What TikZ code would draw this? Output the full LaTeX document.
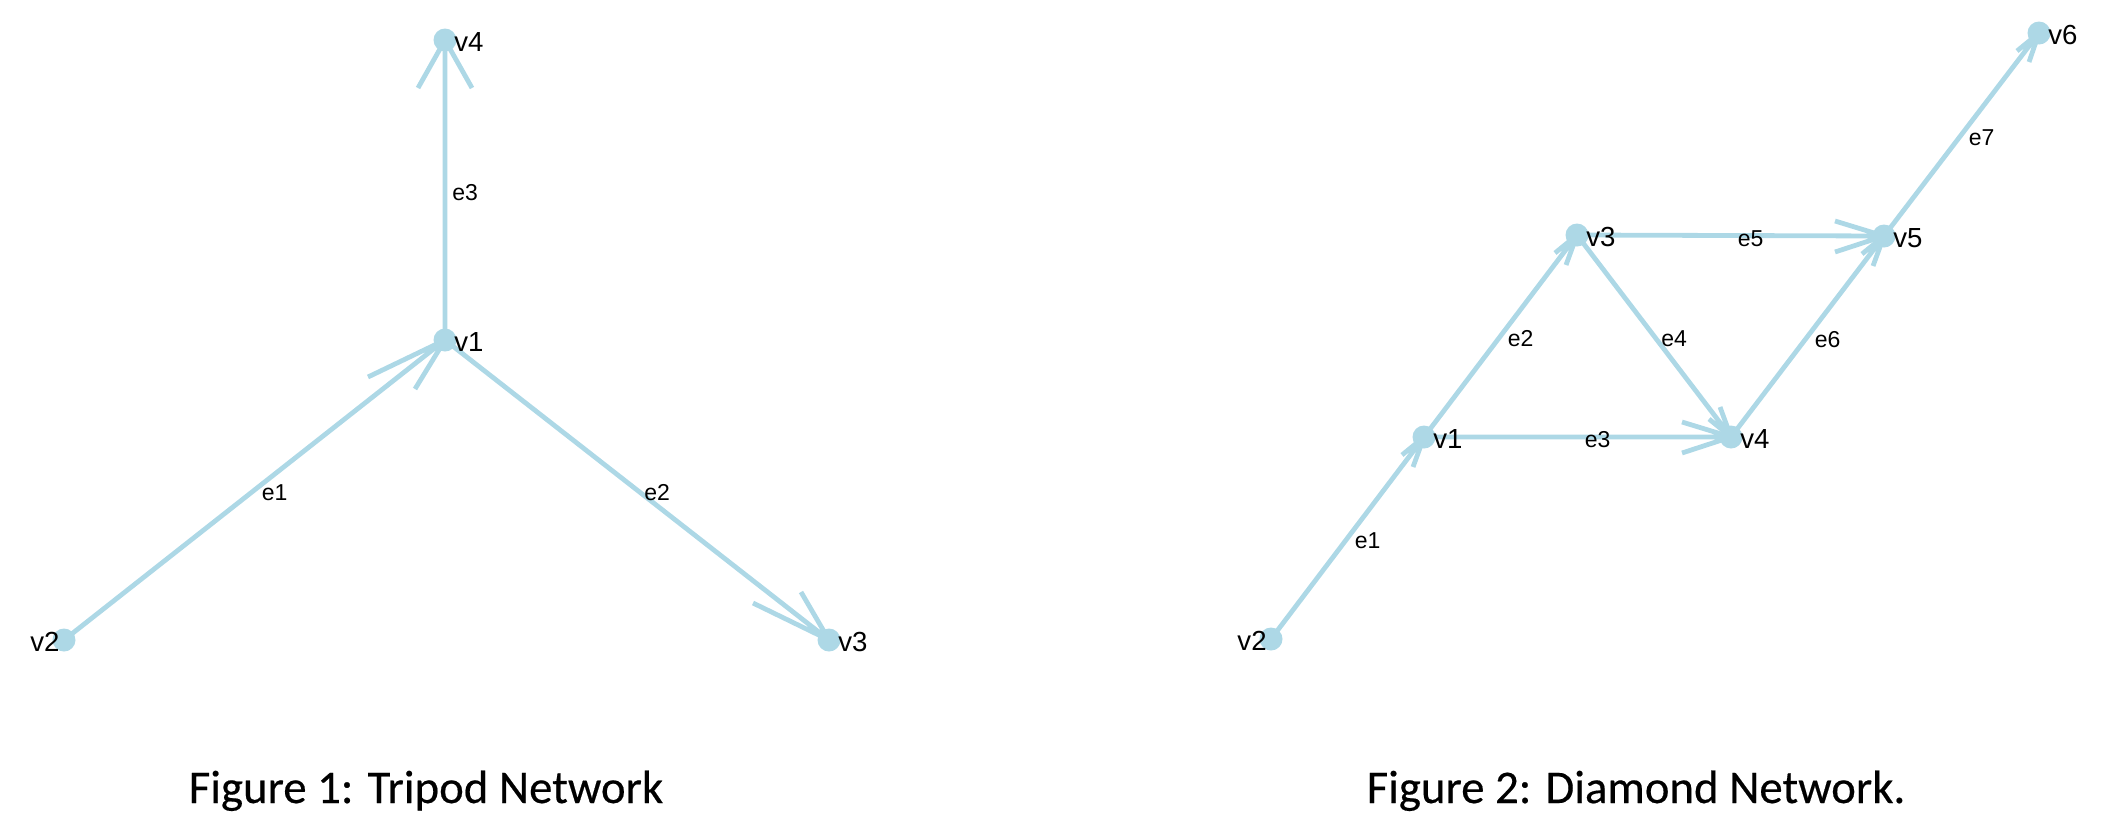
\documentclass[tikz,border=0pt]{standalone}
\usepackage{fontspec}
\setmainfont{Liberation Sans}
\newfontfamily\capfont[FakeBold=0.4]{Carlito}
\usetikzlibrary{calc}
\pgfdeclarelayer{bg}
\pgfsetlayers{bg,main}
\definecolor{nodeblue}{HTML}{ADD8E6}
\tikzset{
  vert/.style={circle, fill=nodeblue, inner sep=0pt, minimum size=11.5pt},
  vlbl/.style={inner sep=0pt, text=black, font=\fontsize{13.8}{16}\selectfont},
  elbl/.style={inner sep=0pt, text=black, anchor=west, xshift=3.5pt, yshift=-1.5pt, font=\fontsize{11.5}{13}\selectfont},
  edge/.style={draw=nodeblue, line width=2.4pt, line join=round},
  capt/.style={inner sep=0pt, anchor=base, font=\capfont\fontsize{23.4}{28}\selectfont}
}
\begin{document}
\begin{tikzpicture}[x=0.5pt, y=-0.5pt]
\useasboundingbox (0,0) rectangle (2120,836);
% ---------- Figure 1 ----------
\node[vert] (f1v4) at (445,40) {};
\node[vert] (f1v1) at (445,340) {};
\node[vert] (f1v2) at (64,640) {};
\node[vert] (f1v3) at (829,640) {};
\node[vlbl, anchor=west, xshift=4.5pt, yshift=-1pt] (f1t4) at (f1v4.center) {v4};
\node[vlbl, anchor=west, xshift=4.5pt, yshift=-1pt] (f1t1) at (f1v1.center) {v1};
\node[vlbl, anchor=east, xshift=-2pt, yshift=-1pt] (f1t2) at (f1v2.center) {v2};
\node[vlbl, anchor=west, xshift=4.5pt, yshift=-1pt] (f1t3) at (f1v3.center) {v3};
\begin{pgfonlayer}{bg}
\draw[edge] (f1v2.center) -- (f1v1.center) -- ++(-77,37) (f1v1.center) -- ++(-30,49);
\draw[edge] (f1v1.center) -- (f1v3.center) -- ++(-76,-37) (f1v3.center) -- ++(-28,-48);
\draw[edge] (f1v1.center) -- (f1v4.center) -- ++(-27,48) (f1v4.center) -- ++(27,48);
\end{pgfonlayer}
\node[elbl] (f1e1) at ($(f1v2)!0.5!(f1v1)$) {e1};
\node[elbl] (f1e2) at ($(f1v1)!0.5!(f1v3)$) {e2};
\node[elbl] (f1e3) at ($(f1v1)!0.5!(f1v4)$) {e3};
% ---------- Figure 2 ----------
\node[vert] (f2v2) at (1271,639) {};
\node[vert] (f2v1) at (1424,437) {};
\node[vert] (f2v3) at (1577,235) {};
\node[vert] (f2v4) at (1731,437) {};
\node[vert] (f2v5) at (1884,236) {};
\node[vert] (f2v6) at (2039,33) {};
\node[vlbl, anchor=east, xshift=-2pt, yshift=-1pt] (f2t2) at (f2v2.center) {v2};
\node[vlbl, anchor=west, xshift=4.5pt, yshift=-1pt] (f2t1) at (f2v1.center) {v1};
\node[vlbl, anchor=west, xshift=4.5pt, yshift=-1pt] (f2t3) at (f2v3.center) {v3};
\node[vlbl, anchor=west, xshift=4.5pt, yshift=-1pt] (f2t4) at (f2v4.center) {v4};
\node[vlbl, anchor=west, xshift=4.5pt, yshift=-1pt] (f2t5) at (f2v5.center) {v5};
\node[vlbl, anchor=west, xshift=4.5pt, yshift=-1pt] (f2t6) at (f2v6.center) {v6};
\begin{pgfonlayer}{bg}
\draw[edge] (f2v2.center) -- (f2v1.center) -- ++(-22,18) (f2v1.center) -- ++(-11,30);
\draw[edge] (f2v1.center) -- (f2v3.center) -- ++(-22,18) (f2v3.center) -- ++(-11,30);
\draw[edge] (f2v1.center) -- (f2v4.center) -- ++(-49,-15) (f2v4.center) -- ++(-49,16);
\draw[edge] (f2v3.center) -- (f2v4.center) -- ++(-22,-18) (f2v4.center) -- ++(-11,-30);
\draw[edge] (f2v3.center) -- (f2v5.center) -- ++(-49,-15) (f2v5.center) -- ++(-49,16);
\draw[edge] (f2v4.center) -- (f2v5.center) -- ++(-22,18) (f2v5.center) -- ++(-11,30);
\draw[edge] (f2v5.center) -- (f2v6.center) -- ++(-22,18) (f2v6.center) -- ++(-10,29);
\end{pgfonlayer}
\node[elbl] (f2e1) at ($(f2v2)!0.5!(f2v1)$) {e1};
\node[elbl] (f2e2) at ($(f2v1)!0.5!(f2v3)$) {e2};
\node[elbl] (f2e3) at ($(f2v1)!0.5!(f2v4)$) {e3};
\node[elbl] (f2e4) at ($(f2v3)!0.5!(f2v4)$) {e4};
\node[elbl] (f2e5) at ($(f2v3)!0.5!(f2v5)$) {e5};
\node[elbl] (f2e6) at ($(f2v4)!0.5!(f2v5)$) {e6};
\node[elbl] (f2e7) at ($(f2v5)!0.5!(f2v6)$) {e7};
% ---------- Captions ----------
\node[capt] (cap1) at (426,803) {Figure 1: Tripod Network};
\node[capt] (cap2) at (1636,803) {Figure 2: Diamond Network.};
\end{tikzpicture}
\end{document}
